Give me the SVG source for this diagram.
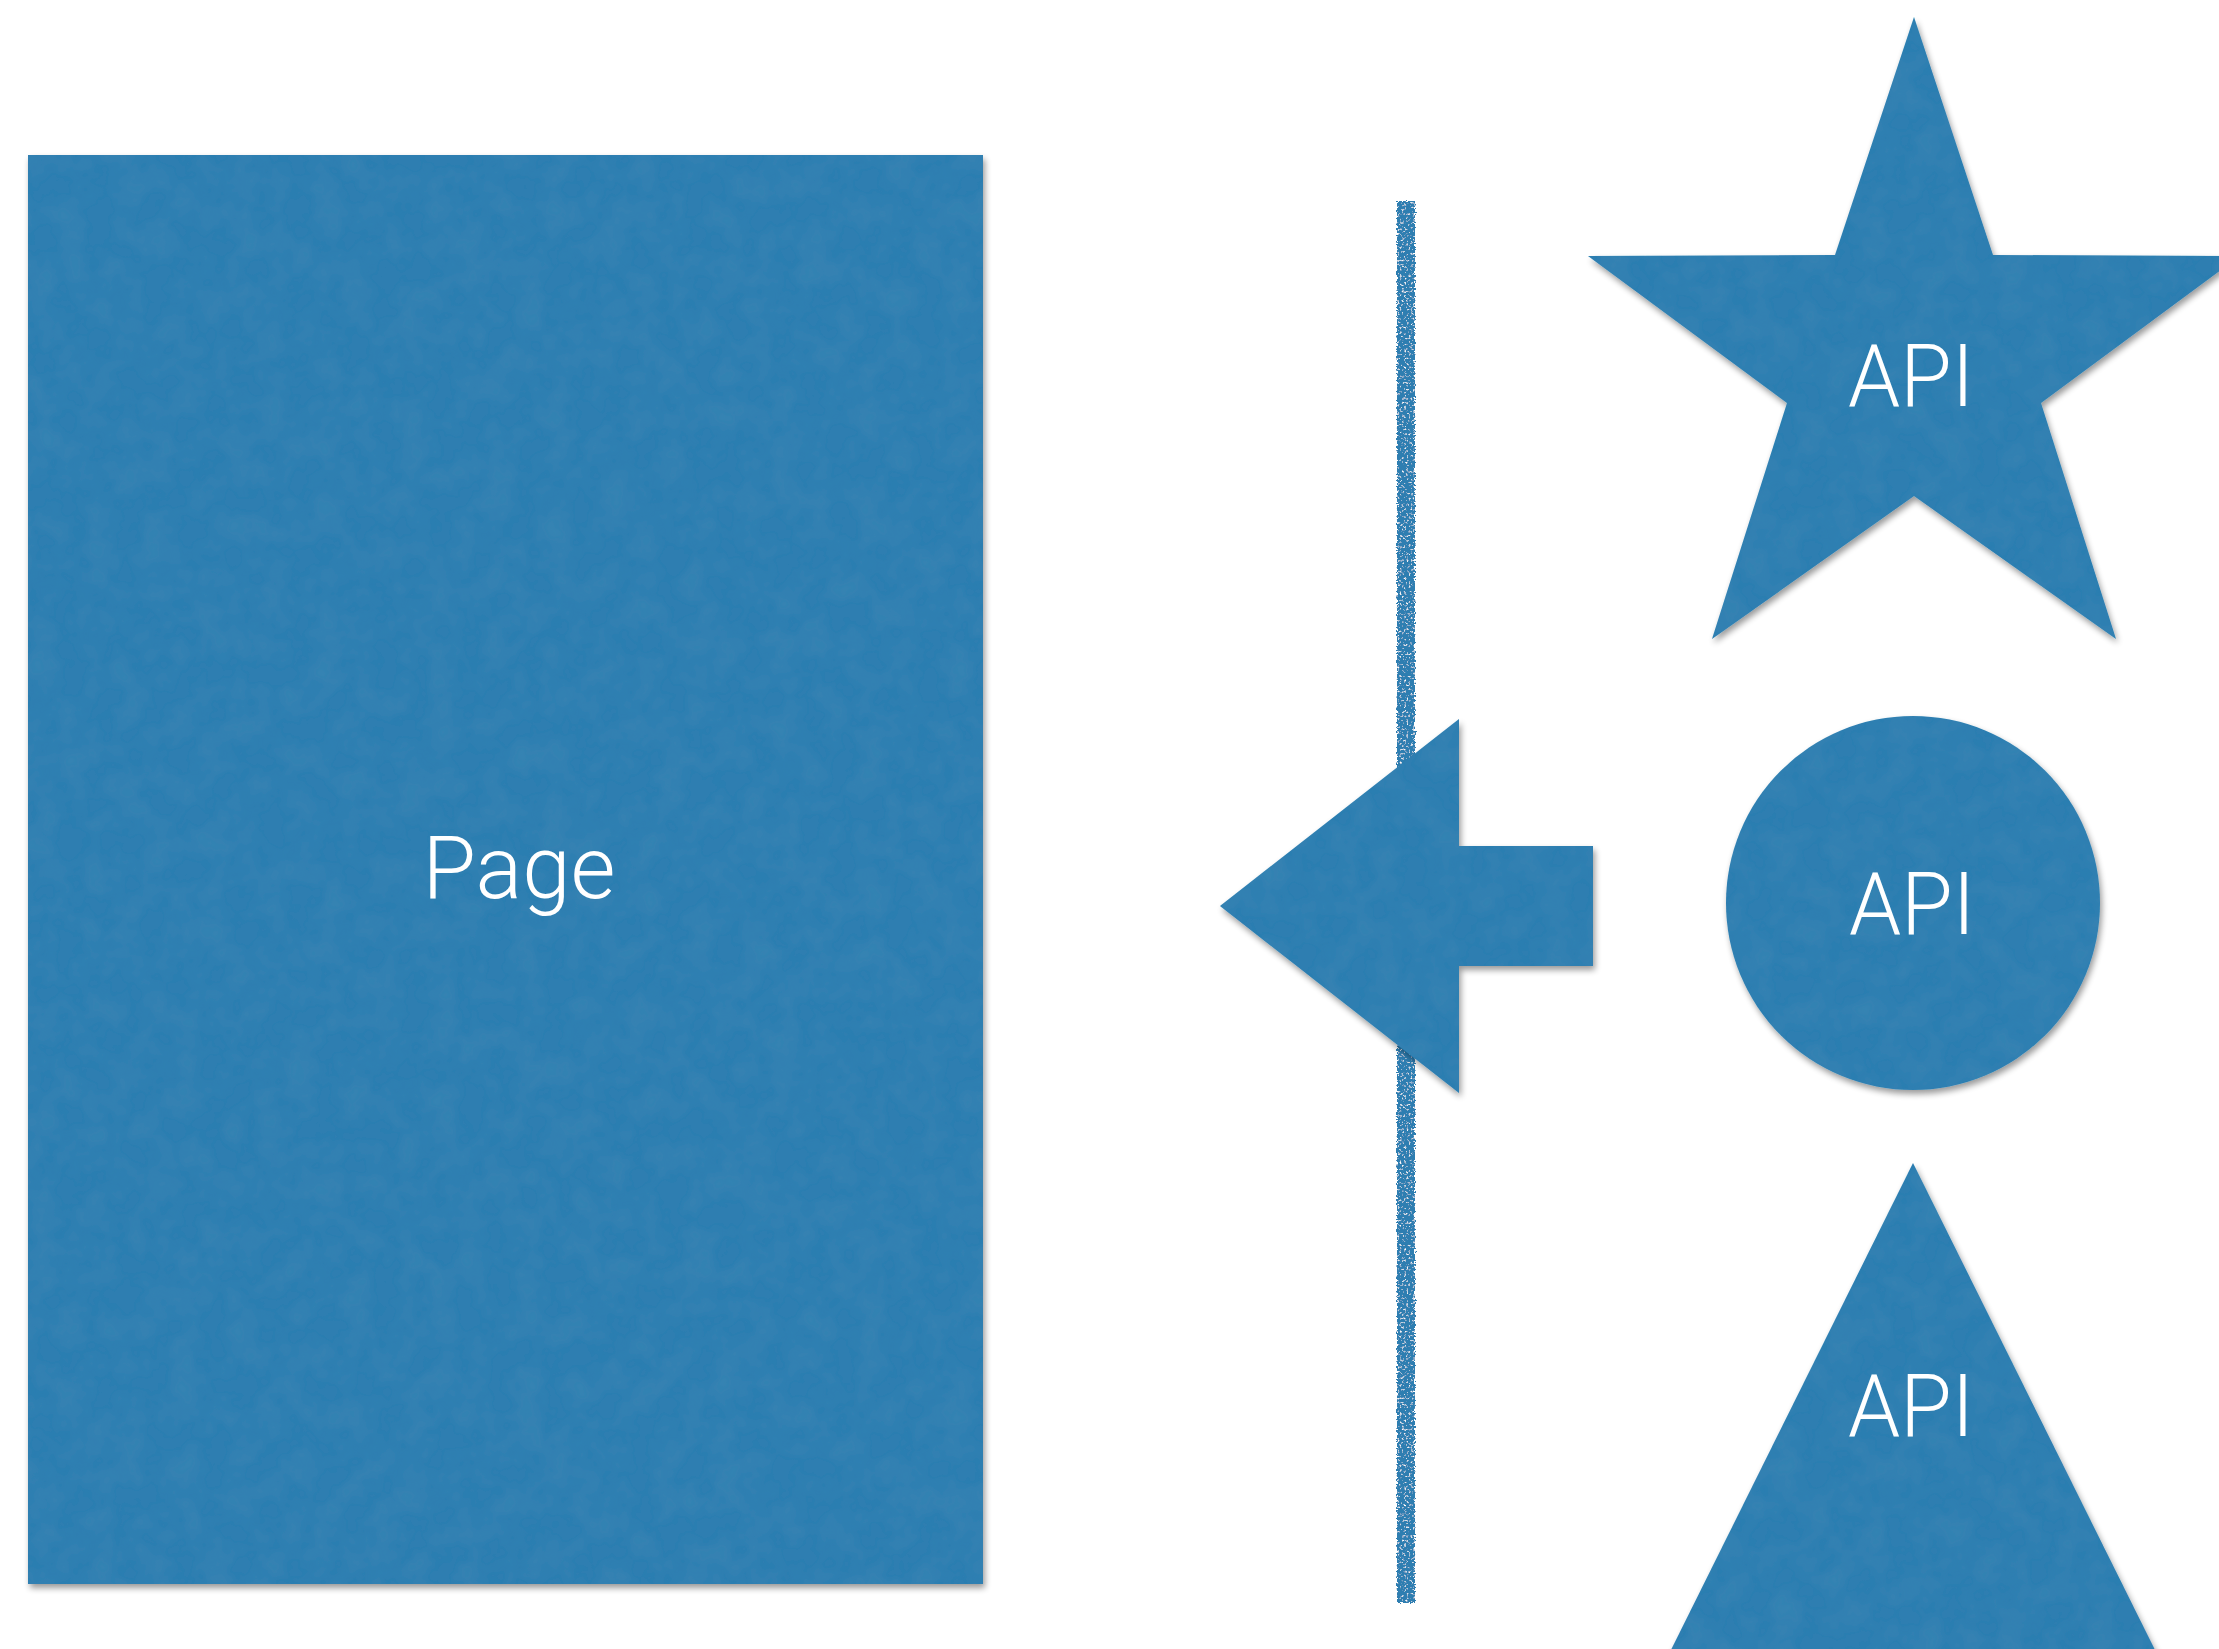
<svg xmlns="http://www.w3.org/2000/svg" width="2219" height="1649" viewBox="0 0 2219 1649">
  <style>
    .shape { fill: #2e7eb1; }
    .label { fill: #ffffff; font-family: "Roboto", "Liberation Sans", sans-serif; font-weight: 300; font-size: 88px; text-anchor: middle; }
  </style>
  <defs>
    <filter id="paper" x="-5%" y="-5%" width="115%" height="115%">
      <feTurbulence type="fractalNoise" baseFrequency="0.035" numOctaves="3" seed="4" result="n"/>
      <feColorMatrix in="n" type="matrix" values="0 0 0 0 0.08  0 0 0 0 0.32  0 0 0 0 0.5  0.35 0 0 0 -0.12" result="tint"/>
      <feComposite in="tint" in2="SourceGraphic" operator="in" result="tex"/>
      <feGaussianBlur in="SourceAlpha" stdDeviation="3"/>
      <feOffset dx="2" dy="4"/>
      <feComponentTransfer result="sh"><feFuncA type="linear" slope="0.4"/></feComponentTransfer>
      <feMerge>
        <feMergeNode in="sh"/>
        <feMergeNode in="SourceGraphic"/>
        <feMergeNode in="tex"/>
      </feMerge>
    </filter>
    <filter id="rough" x="-50%" y="-2%" width="200%" height="104%">
      <feTurbulence type="fractalNoise" baseFrequency="0.45" numOctaves="2" seed="7" result="n"/>
      <feDisplacementMap in="SourceGraphic" in2="n" scale="5" xChannelSelector="R" yChannelSelector="G" result="d"/>
      <feColorMatrix in="n" type="matrix" values="0 0 0 0 1  0 0 0 0 1  0 0 0 0 1  0 0 4 0 -2.3" result="sp"/>
      <feComposite in="sp" in2="d" operator="in" result="speck"/>
      <feMerge>
        <feMergeNode in="d"/>
        <feMergeNode in="speck"/>
      </feMerge>
    </filter>
  </defs>

  <rect width="2219" height="1649" fill="#ffffff"/>

  <g id="page">
    <rect class="shape" x="28" y="155" width="955" height="1429" filter="url(#paper)"/>
    <text class="label" x="519" y="898" textLength="193" lengthAdjust="spacingAndGlyphs">Page</text>
  </g>

  <g id="boundary">
    <rect class="shape" x="1397" y="201" width="18" height="1402" filter="url(#rough)"/>
  </g>

  <g id="connectors">
    <polygon class="shape" points="1220,906 1459,719 1459,846 1593,846 1593,966 1459,966 1459,1093" filter="url(#paper)"/>
  </g>

  <g id="api-star">
    <polygon class="shape" points="1914,17 1993,255 2240,256 2041,403 2116,639 1914,496 1712,639 1787,403 1588,256 1835,255" filter="url(#paper)"/>
    <text class="label" x="1911" y="406" textLength="126" lengthAdjust="spacingAndGlyphs">API</text>
  </g>

  <g id="api-circle">
    <circle class="shape" cx="1913" cy="903" r="187" filter="url(#paper)"/>
    <text class="label" x="1912" y="934" textLength="126" lengthAdjust="spacingAndGlyphs">API</text>
  </g>

  <g id="api-triangle">
    <polygon class="shape" points="1913,1163 2160,1660 1666,1660" filter="url(#paper)"/>
    <text class="label" x="1911" y="1436" textLength="126" lengthAdjust="spacingAndGlyphs">API</text>
  </g>
</svg>
